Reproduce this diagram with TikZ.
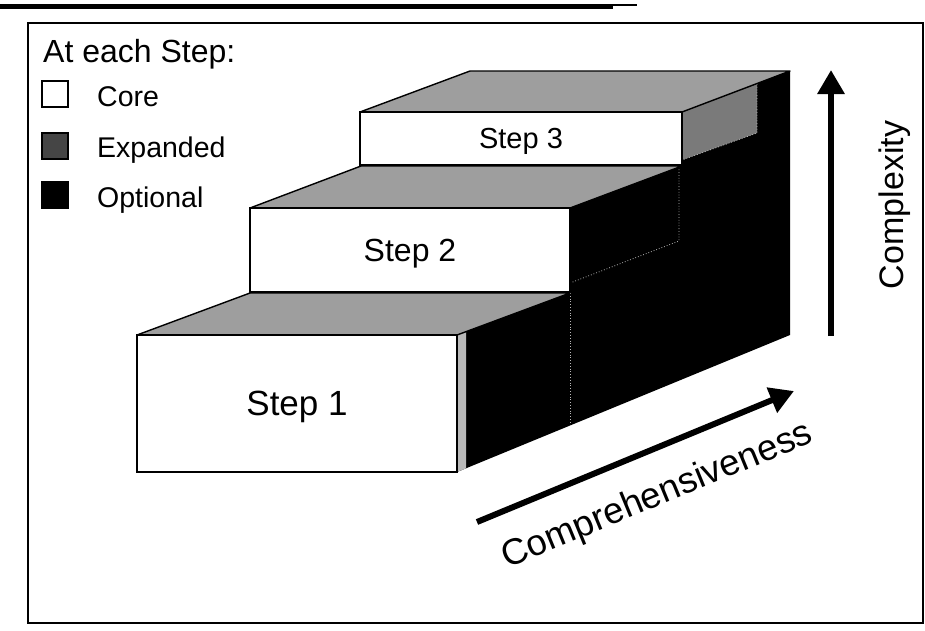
\documentclass[tikz,border=0pt]{standalone}
\usepackage{fontspec}
\setmainfont{Liberation Sans}
\usetikzlibrary{arrows.meta}
\definecolor{topgray}{gray}{0.62}
\definecolor{sidegray}{gray}{0.48}
\definecolor{legendgray}{gray}{0.27}
\begin{document}
\begin{tikzpicture}[x=1pt,y=-1pt,
  front/.style={draw=black, line width=1.6pt, fill=white, inner sep=0pt, outer sep=0pt, text depth=0pt},
  topface/.style={fill=topgray, draw=black, line width=1.4pt, line join=round},
  faint/.style={draw=gray!55, dotted, line width=0.8pt},
  legbox/.style={draw=black, line width=1.5pt, minimum size=26pt, inner sep=0pt},
  legtext/.style={anchor=base west, font=\fontsize{28.5}{32}\selectfont, inner sep=0pt},
  axis/.style={line width=6pt, -{Triangle[length=24pt,width=26pt]}},
  axlabel/.style={anchor=base, inner sep=0pt}
]
\useasboundingbox (0,0) rectangle (925,630);
% top rule and frame
\draw[line width=5pt] (0,6.5) -- (613,6.5);
\draw[line width=2pt] (613,5) -- (637,5);
\draw[line width=2.5pt] (28,23) rectangle (923,623);
% side (optional) region
\fill[black] (457,335) -- (570,293) -- (570,208) -- (682,166) -- (682,112) -- (790,71) -- (790,335) -- (457,472) -- cycle;
\fill[sidegray] (682,112) -- (757,84) -- (757,133) -- (682,160) -- cycle;
\fill[gray!55] (457,335) -- (466,331.6) -- (466,468.3) -- (457,472) -- cycle;
\draw[faint] (570,293) -- (570,426);
\draw[faint] (570,283) -- (679,241) -- (679,160);
\draw[faint] (757,84) -- (757,133) -- (682,160);
% top faces
\draw[topface] (137,335) -- (457,335) -- (570,293) -- (250,293) -- cycle;
\draw[topface] (250,208) -- (570,208) -- (682,166) -- (361,166) -- cycle;
\draw[topface] (360,112) -- (682,112) -- (790,71) -- (470,71) -- cycle;
% front faces
\node[front, minimum width=320pt, minimum height=137pt, font=\fontsize{35}{40}\selectfont] (s1) at (297,403.5) {Step 1};
\node[front, minimum width=320pt, minimum height=84pt, font=\fontsize{32}{38}\selectfont] (s2) at (410,250) {Step 2};
\node[front, minimum width=322pt, minimum height=53pt, font=\fontsize{29}{34}\selectfont] (s3) at (521,138.5) {Step 3};
% legend
\node[anchor=base west, inner sep=0pt, font=\fontsize{32}{36}\selectfont] (head) at (43,62) {At each Step:};
\node[legbox, fill=white] (lcore) at (55,94) {};
\node[legbox, fill=legendgray] (lexp) at (55,146) {};
\node[legbox, fill=black] (lopt) at (55,195) {};
\node[legtext] (tcore) at (97,106) {Core};
\node[legtext] (texp) at (97,157) {Expanded};
\node[legtext] (topt) at (97,207) {Optional};
% axes
\coordinate (cxa) at (831,336);
\coordinate (cxb) at (831,70);
\draw[axis] (cxa) -- (cxb);
\node[axlabel, rotate=90, font=\fontsize{34}{40}\selectfont] (lcx) at (903,205) {Complexity};
\coordinate (cpa) at (477,522);
\coordinate (cpb) at (794,391);
\draw[axis] (cpa) -- (cpb);
\node[axlabel, rotate=22.4, font=\fontsize{36.5}{42}\selectfont] (lcp) at (661,505) {Comprehensiveness};
\end{tikzpicture}
\end{document}
